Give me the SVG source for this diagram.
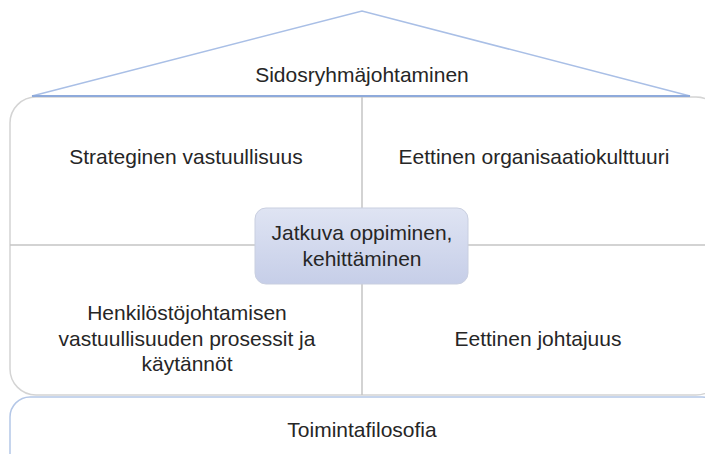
<svg xmlns="http://www.w3.org/2000/svg" width="705" height="454" viewBox="0 0 705 454">
<defs>
<linearGradient id="cg" x1="0" y1="0" x2="0" y2="1">
<stop offset="0" stop-color="#dfe4f3"/>
<stop offset="1" stop-color="#c6cee8"/>
</linearGradient>
<style>
text{font-family:"Liberation Sans","Open Sans",sans-serif;font-size:21px;fill:#262626;text-anchor:middle}
.frame{fill:#ffffff;stroke:#d4d4d4;stroke-width:1.5}
.div{stroke:#c4c4c4;stroke-width:1.5;fill:none}
.roof{fill:#ffffff;stroke:#a9bfe6;stroke-width:1.5}
</style>
</defs>
<rect width="705" height="454" fill="#ffffff"/>
<g id="toimintafilosofia">
<rect x="10" y="397" width="712" height="90" rx="20" fill="#ffffff" stroke="#b4c7e7" stroke-width="1.5"/>
<text x="362" y="437">Toimintafilosofia</text>
</g>
<g id="house">
<rect class="frame" x="10" y="97" width="712" height="298" rx="26"/>
</g>
<g id="connectors">
<line class="div" x1="362" y1="97" x2="362" y2="395"/>
<line class="div" x1="10" y1="245" x2="705" y2="245"/>
</g>
<g id="sidosryhmajohtaminen">
<polygon class="roof" points="32,96 362,11 690,96"/>
<line x1="32" y1="96" x2="690" y2="96" stroke="#8eaadb" stroke-width="2"/>
<text x="362" y="82">Sidosryhmäjohtaminen</text>
</g>
<g id="strateginen">
<text x="186" y="164">Strateginen vastuullisuus</text>
</g>
<g id="eettinen-org">
<text x="534" y="164">Eettinen organisaatiokulttuuri</text>
</g>
<g id="henkilosto">
<text x="187" y="320">Henkilöstöjohtamisen</text>
<text x="187" y="346">vastuullisuuden prosessit ja</text>
<text x="187" y="371">käytännöt</text>
</g>
<g id="eettinen-johtajuus">
<text x="538" y="346">Eettinen johtajuus</text>
</g>
<g id="jatkuva">
<rect x="255" y="208" width="213" height="76" rx="11" fill="url(#cg)" stroke="#c9cfe0" stroke-width="1"/>
<text x="362" y="240">Jatkuva oppiminen,</text>
<text x="362" y="266">kehittäminen</text>
</g>
</svg>
